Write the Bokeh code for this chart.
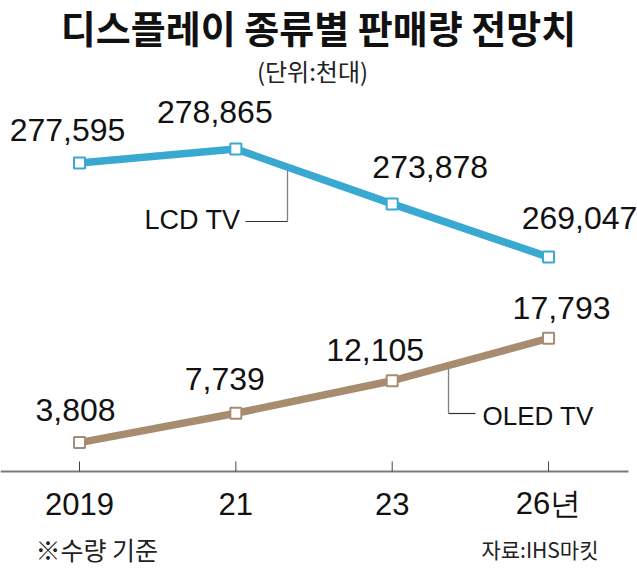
from bokeh.plotting import figure
from bokeh.models import Range1d, ColumnDataSource
from bokeh.core.properties import value
from bokeh.embed import file_html
from bokeh.resources import INLINE

# ---- data ----
years = ["2019", "21", "23", "26년"]
lcd = [277595, 278865, 273878, 269047]
oled = [3808, 7739, 12105, 17793]
lcd_labels = ["277,595", "278,865", "273,878", "269,047"]
oled_labels = ["3,808", "7,739", "12,105", "17,793"]
title_text = "디스플레이 종류별 판매량 전망치"
unit_text = "(단위:천대)"
note_text = "※수량 기준"
source_text = "자료:IHS마킷"

# ---- styles ----
W, H = 637, 568
BLUE = "#3aa9d1"
TAN = "#a88c70"
NUM_FONT = "'Liberation Sans', Arial, sans-serif"
KR_FONT = "'Noto Sans CJK KR', sans-serif"

xs = list(range(len(years)))
x_rng = Range1d(-0.5053, 3.569)
lcd_rng = Range1d(240766, 292351)
oled_rng = Range1d(-13079, 63110)

def py(rng, pix):
    """screen pixel row (from top) -> value on the given range"""
    return rng.end - (rng.end - rng.start) * pix / H

def px(pix):
    """screen pixel column -> x value"""
    return x_rng.start + (x_rng.end - x_rng.start) * pix / W

p = figure(width=W, height=H, x_range=x_rng, y_range=lcd_rng,
           output_backend="svg", toolbar_location=None,
           min_border=0, outline_line_color=None,
           background_fill_color="white", border_fill_color="white",
           x_axis_location=None, y_axis_location=None)
p.extra_y_ranges = {"oled": oled_rng}
p.xgrid.visible = False
p.ygrid.visible = False

# ---- category axis (drawn in the plot area) ----
axis_y = py(lcd_rng, 471)
p.segment(x0=[x_rng.start], y0=[axis_y], x1=[px(628)], y1=[axis_y],
          line_color="#7a7a7a", line_width=2)
p.segment(x0=xs, y0=[py(lcd_rng, 461)] * len(xs), x1=xs, y1=[axis_y] * len(xs),
          line_color="#444444", line_width=1)
p.text(x=xs, y=[py(lcd_rng, 503)] * len(xs), text=years, text_align="center",
       text_baseline="middle", text_font=value(NUM_FONT), text_font_size="31px",
       text_color="#111111")

lcd_src = ColumnDataSource(dict(x=xs, y=lcd, label=lcd_labels,
                                dx=[-12, -21, 38, 31], dy=[-33, -37, -37, -39]))
oled_src = ColumnDataSource(dict(x=xs, y=oled, label=oled_labels,
                                 dx=[-4, -11, -17, 13], dy=[-33, -34, -31, -30]))

# ---- leader lines for series names ----
lx = px(287)
ly_line = lcd[1] + (lx - 1) * (lcd[2] - lcd[1])
ly_low = py(lcd_rng, 221)
p.segment(x0=[lx], y0=[ly_line], x1=[lx], y1=[ly_low], line_color="#808080", line_width=1.3)
p.segment(x0=[px(245)], y0=[ly_low], x1=[lx], y1=[ly_low], line_color="#333333", line_width=1.2)
p.text(x=[px(240)], y=[ly_low], text=["LCD TV"], text_align="right", text_baseline="middle",
       text_font=value(NUM_FONT), text_font_size="27px", text_color="#111111", y_offset=[-2])

ox = px(448)
oy_line = oled[2] + (ox - 2) * (oled[3] - oled[2])
oy_low = py(oled_rng, 413)
p.segment(x0=[ox], y0=[oy_line], x1=[ox], y1=[oy_low], line_color="#808080", line_width=1.3,
          y_range_name="oled")
p.segment(x0=[ox], y0=[oy_low], x1=[px(475)], y1=[oy_low], line_color="#333333", line_width=1.2,
          y_range_name="oled")
p.text(x=[px(482)], y=[oy_low], text=["OLED TV"], text_align="left", text_baseline="middle",
       text_font=value(NUM_FONT), text_font_size="26px", text_color="#111111", y_offset=[2],
       y_range_name="oled")

# ---- lines and markers ----
p.line("x", "y", source=lcd_src, line_color=BLUE, line_width=7.5, line_join="round")
p.scatter("x", "y", source=lcd_src, marker="square", size=11, fill_color="white",
          line_color=BLUE, line_width=2)
p.line("x", "y", source=oled_src, line_color=TAN, line_width=7.5, line_join="round",
       y_range_name="oled")
p.scatter("x", "y", source=oled_src, marker="square", size=11, fill_color="white",
          line_color=TAN, line_width=2, y_range_name="oled")

# ---- value labels ----
p.text("x", "y", text="label", source=lcd_src, x_offset="dx", y_offset="dy",
       text_align="center", text_baseline="middle", text_font=value(NUM_FONT),
       text_font_size="32px", text_color="#111111")
p.text("x", "y", text="label", source=oled_src, x_offset="dx", y_offset="dy",
       text_align="center", text_baseline="middle", text_font=value(NUM_FONT),
       text_font_size="32px", text_color="#111111", y_range_name="oled")

# ---- title, unit, notes ----
p.text(x=[px(318)], y=[py(lcd_rng, 26)], text=[title_text], text_align="center",
       text_baseline="middle", text_font=value(KR_FONT), text_font_style="bold",
       text_font_size="38px", text_color="#111111")
p.text(x=[px(312)], y=[py(lcd_rng, 70)], text=[unit_text], text_align="center",
       text_baseline="middle", text_font=value(KR_FONT), text_font_size="24px",
       text_color="#222222")
p.text(x=[px(35)], y=[py(lcd_rng, 548)], text=[note_text], text_align="left",
       text_baseline="middle", text_font=value(KR_FONT), text_font_size="25px",
       text_color="#222222")
p.text(x=[px(598)], y=[py(lcd_rng, 548)], text=[source_text], text_align="right",
       text_baseline="middle", text_font=value(KR_FONT), text_font_size="21px",
       text_color="#222222")

open("out.html", "w").write(file_html(p, INLINE))
